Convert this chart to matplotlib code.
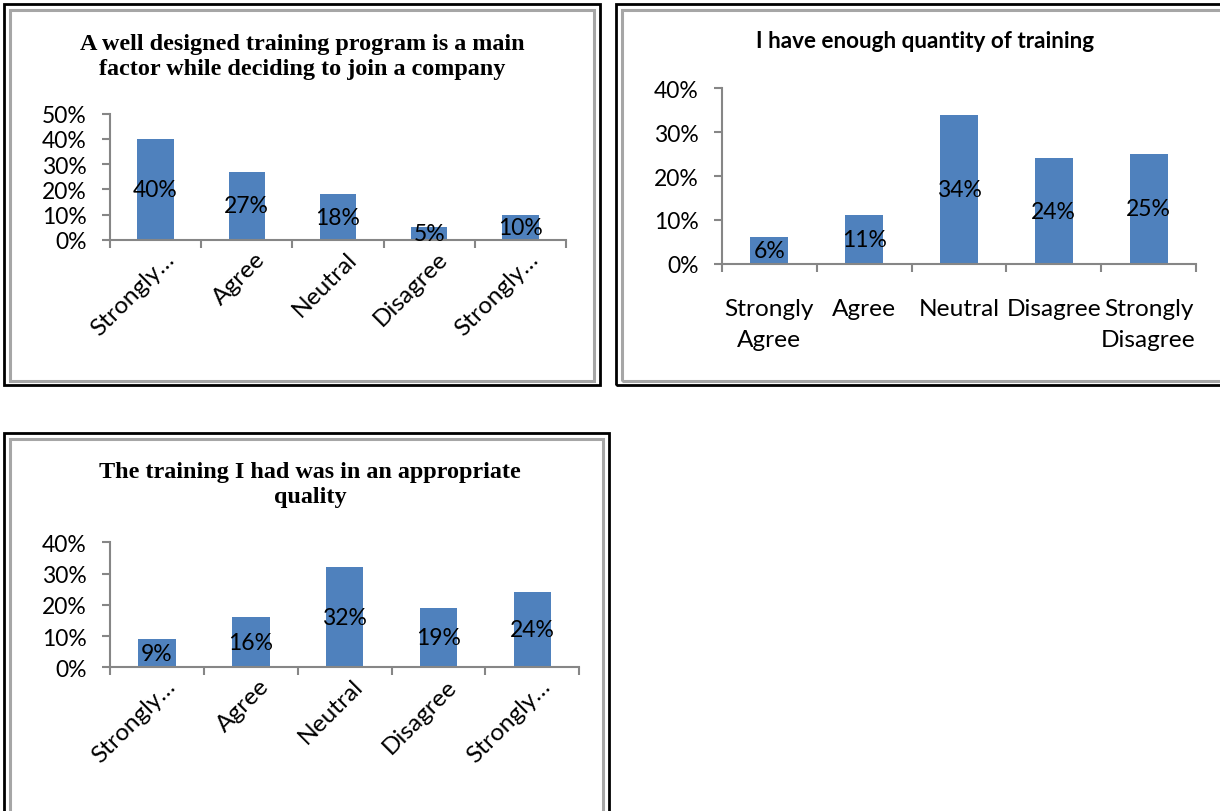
import matplotlib
matplotlib.use("Agg")
import matplotlib.pyplot as plt
from matplotlib.patches import Rectangle
from matplotlib.ticker import FixedLocator, PercentFormatter
import matplotlib.transforms as mtransforms

# ---- data ----
categories_short = ["Strongly\u2026", "Agree", "Neutral", "Disagree", "Strongly\u2026"]
categories_full = ["Strongly\nAgree", "Agree", "Neutral", "Disagree", "Strongly\nDisagree"]

title_join = "A well designed training program is a main\nfactor while deciding to join a company"
values_join = [40, 27, 18, 5, 10]

title_quantity = "I have enough quantity of training"
values_quantity = [6, 11, 34, 24, 25]

title_quality = "The training I had was in an appropriate\nquality"
values_quality = [9, 16, 32, 19, 24]

# ---- styling ----
W, H = 1220, 812
BAR_COLOR = "#4F81BD"
AXIS_COLOR = "#868686"
LABEL_FONT = "Lato"
SERIF_FONT = "Liberation Serif"
TICK_SIZE = 16.5
CAT_SIZE = 17.6

fig = plt.figure(figsize=(W / 100, H / 100), dpi=100)
fig.patch.set_facecolor("white")


def px_rect(left, top, right, bottom):
    return [left / W, 1 - bottom / H, (right - left) / W, (bottom - top) / H]


def frame(x0, y0, x1, y1):
    # outer dark line with an inner grey line, like a framed text box
    fig.add_artist(Rectangle((x0 / W, 1 - y1 / H), (x1 - x0) / W, (y1 - y0) / H,
                             transform=fig.transFigure, fill=False,
                             edgecolor="black", linewidth=2.0, zorder=0))
    g = 6
    fig.add_artist(Rectangle(((x0 + g) / W, 1 - (y1 - g + 2) / H),
                             (x1 - x0 - 2 * g) / W, (y1 - y0 - 2 * g + 2) / H,
                             transform=fig.transFigure, fill=False,
                             edgecolor="#A6A6A6", linewidth=2.2, zorder=0))


def bar_chart(rect, values, ymax, labels, rotate):
    ax = fig.add_axes(rect)
    n = len(values)
    x = list(range(n))
    frac = [v / 100 for v in values]
    ax.bar(x, frac, width=0.4, color=BAR_COLOR, zorder=2)
    ax.set_xlim(-0.5, n - 0.5)
    ax.set_ylim(0, ymax)
    ax.yaxis.set_major_locator(FixedLocator([i / 10 for i in range(int(round(ymax * 10)) + 1)]))
    ax.yaxis.set_major_formatter(PercentFormatter(1.0, decimals=0))

    for side in ("top", "right"):
        ax.spines[side].set_visible(False)
    for side in ("left", "bottom"):
        ax.spines[side].set_color(AXIS_COLOR)
        ax.spines[side].set_linewidth(1.5)

    ax.tick_params(axis="y", direction="out", length=6, width=1.5, color=AXIS_COLOR,
                   pad=11, labelsize=TICK_SIZE)
    for t in ax.get_yticklabels():
        t.set_fontfamily(LABEL_FONT)

    # category boundaries carry the tick marks; labels sit on minor ticks
    ax.xaxis.set_major_locator(FixedLocator([i - 0.5 for i in range(n + 1)]))
    ax.xaxis.set_minor_locator(FixedLocator(x))
    ax.tick_params(axis="x", which="major", direction="out", length=6, width=1.5,
                   color=AXIS_COLOR, labelbottom=False)
    ax.tick_params(axis="x", which="minor", length=0)
    if rotate:
        ax.tick_params(axis="x", which="minor", pad=11)
        ax.set_xticks(x, labels, minor=True, rotation=45, ha="right", va="center",
                      rotation_mode="anchor", fontsize=CAT_SIZE, fontfamily=LABEL_FONT)
        shift = mtransforms.ScaledTranslation(15 / 100, 0, fig.dpi_scale_trans)
        for t in ax.get_xticklabels(minor=True):
            t.set_transform(t.get_transform() + shift)
    else:
        ax.tick_params(axis="x", which="minor", pad=25)
        ax.set_xticks(x, labels, minor=True, ha="center", va="top",
                      fontsize=CAT_SIZE, fontfamily=LABEL_FONT, linespacing=1.55)

    # value labels centred inside the bars
    for xi, v in zip(x, values):
        ax.text(xi, v / 100 / 2, f"{v}%", ha="center", va="center",
                fontsize=TICK_SIZE, fontfamily=LABEL_FONT, color="black", zorder=3)
    return ax


# ---- panel frames ----
frame(4, 5, 600, 386)
frame(616, 5, 1232, 386)
frame(4, 434, 609, 824)

# ---- charts ----
bar_chart(px_rect(110, 114.7, 566, 240.7), values_join, 0.5, categories_short, True)
bar_chart(px_rect(722, 89.3, 1196, 264.7), values_quantity, 0.4, categories_full, False)
bar_chart(px_rect(110, 543.3, 579.3, 668.3), values_quality, 0.4, categories_short, True)

# ---- titles ----
fig.text(302 / W, 1 - 57 / H, title_join, ha="center", va="center",
         fontsize=17.4, fontweight="bold", fontfamily=SERIF_FONT, linespacing=1.25)
fig.text(925 / W, 1 - 42 / H, title_quantity, ha="center", va="center",
         fontsize=16.2, fontweight="bold", fontfamily=LABEL_FONT)
fig.text(310 / W, 1 - 485 / H, title_quality, ha="center", va="center",
         fontsize=17.4, fontweight="bold", fontfamily=SERIF_FONT, linespacing=1.25)

fig.savefig("out.png", dpi=100, facecolor="white")
